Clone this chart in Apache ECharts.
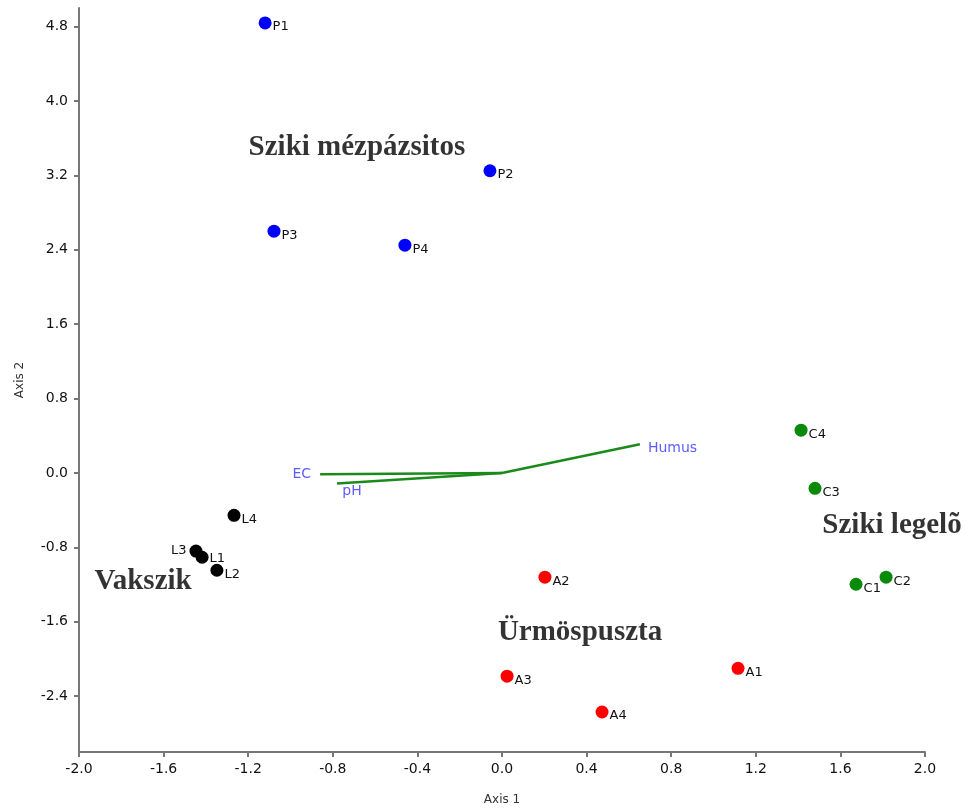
<!DOCTYPE html>
<html><head><meta charset="utf-8">
<script src="https://cdn.jsdelivr.net/npm/echarts@6/dist/echarts.min.js"></script>
<style>html,body{margin:0;padding:0;background:#fff}#c{width:969px;height:808px}</style>
</head><body><div id="c"></div>
<script>
// Sample scores
const groupP = [["P1",-1.12,4.84],["P2",-0.057,3.25],["P3",-1.078,2.60],["P4",-0.459,2.45]];
const groupL = [["L1",-1.418,-0.906],["L2",-1.348,-1.046],["L3",-1.447,-0.84],["L4",-1.267,-0.455]];
const groupA = [["A1",1.116,-2.10],["A2",0.203,-1.12],["A3",0.024,-2.185],["A4",0.473,-2.57]];
const groupC = [["C1",1.674,-1.196],["C2",1.816,-1.12],["C3",1.48,-0.165],["C4",1.414,0.46]];
// Environmental vectors
const vectors = [["Humus",0.652,0.31],["EC",-0.86,-0.014],["pH",-0.78,-0.114]];
// Group names
const groupNames = [["Sziki mézpázsitos",-0.686,3.52],["Vakszik",-1.697,-1.142],["Sziki legelõ",1.844,-0.54],["Ürmöspuszta",0.369,-1.69]];
const yTicks = [-2.4,-1.6,-0.8,0.0,0.8,1.6,2.4,3.2,4.0,4.8];

const chart = echarts.init(document.getElementById('c'));
const lblFont = {fontFamily:'DejaVu Sans',fontSize:13,color:'#111'};
function pts(g,color){
  return {type:'scatter',symbolSize:13,itemStyle:{color:color,opacity:1},
    data:g.map(d=>{
      const o={value:[d[1],d[2]],name:d[0]};
      if(d[0]==='L3'){o.label={position:'left',offset:[2,0]};}
      if(d[0]==='L1'){o.label={offset:[-4,1]};}
      return o;}),
    label:Object.assign({show:true,position:'right',offset:[-4,4],formatter:p=>p.name},lblFont),
    z:5};
}
const series=[];
vectors.forEach(v=>{
  series.push({type:'line',symbol:'none',lineStyle:{color:'#1a8a1a',width:2.5},
    data:[[0,0],[v[1],v[2]]],z:3,silent:true});
});
series.push({type:'scatter',symbolSize:0,silent:true,
  data:vectors.map(v=>({value:[v[1],v[2]],name:v[0],
    label:{position: v[0]==='Humus'?'right':(v[0]==='EC'?'left':'bottom'),
      offset: v[0]==='Humus'?[3,4]:(v[0]==='EC'?[-4,0]:[15,-4])}})),
  label:{show:true,formatter:p=>p.name,fontFamily:'DejaVu Sans',fontSize:14,color:'#3333ff'}});
series.push(pts(groupP,'#0000ff'));
series.push(pts(groupL,'#000000'));
series.push(pts(groupA,'#ff0000'));
series.push(pts(groupC,'#0a8a0a'));
series.push({type:'scatter',symbolSize:0,silent:true,
  data:groupNames.map(g=>({value:[g[1],g[2]],name:g[0]})),
  label:{show:true,position:'inside',offset:[0,2],formatter:p=>p.name,fontFamily:'Liberation Serif',fontWeight:'bold',fontSize:29,color:'#000'}});

chart.setOption({
  animation:false,
  grid:{left:79,right:44,top:8,bottom:56,containLabel:false,outerBoundsMode:'none'},
  xAxis:{type:'value',min:-2,max:2,interval:0.4,
    name:'Axis 1',nameLocation:'middle',nameGap:42,
    nameTextStyle:{fontFamily:'DejaVu Sans',fontSize:12,color:'#333'},
    axisLine:{onZero:false,lineStyle:{color:'#777',width:2}},
    axisTick:{length:5,lineStyle:{color:'#777',width:2}},
    axisLabel:{fontFamily:'DejaVu Sans',fontSize:14,color:'#111',formatter:v=>v.toFixed(1),margin:10},
    splitLine:{show:false}},
  yAxis:{type:'value',min:-3,max:5,
    name:'Axis 2',nameLocation:'middle',nameGap:53,
    nameTextStyle:{fontFamily:'DejaVu Sans',fontSize:12,color:'#333'},
    axisLine:{show:true,onZero:false,lineStyle:{color:'#777',width:2}},
    axisTick:{show:true,length:5,customValues:yTicks,lineStyle:{color:'#777',width:2}},
    axisLabel:{fontFamily:'DejaVu Sans',fontSize:14,color:'#111',customValues:yTicks,formatter:v=>v.toFixed(1),margin:11},
    splitLine:{show:false}},
  series:series
});
</script></body></html>
